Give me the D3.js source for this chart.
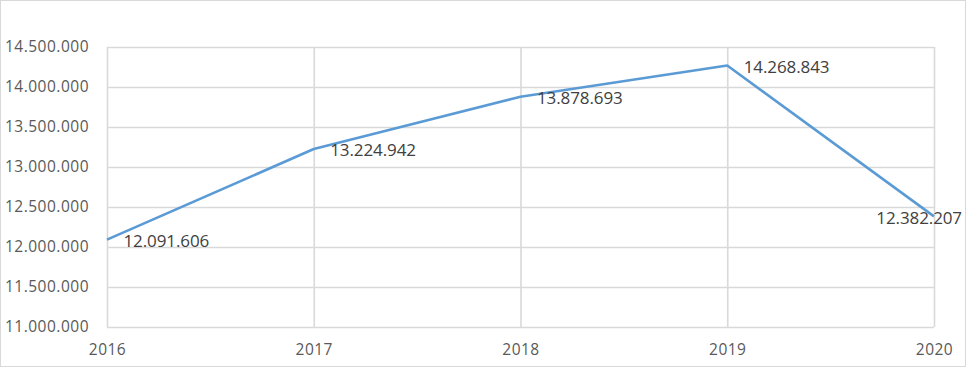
<!DOCTYPE html>
<html><head><meta charset="utf-8">
<script src="https://cdn.jsdelivr.net/npm/d3@7"></script>
<style>body{margin:0;background:#fff;} svg{display:block;}</style>
</head><body>
<script>
const years = ["2016","2017","2018","2019","2020"];
const values = [12091606, 13224942, 13878693, 14268843, 12382207];
const valueLabels = ["12.091.606","13.224.942","13.878.693","14.268.843","12.382.207"];
const yTicks = [11000000,11500000,12000000,12500000,13000000,13500000,14000000,14500000];

const W = 966, H = 367;
const m = {left:107, right:32, top:47, bottom:40};
const svg = d3.select("body").append("svg").attr("width",W).attr("height",H);
svg.append("rect").attr("x",0.5).attr("y",0.5).attr("width",W-1).attr("height",H-1)
  .attr("fill","#fff").attr("stroke","#d9d9d9");

const x = d3.scalePoint().domain(years).range([m.left, W-m.right]);
const y = d3.scaleLinear().domain([11000000,14500000]).range([H-m.bottom, m.top]);
const fmt = d => d3.format(",")(d).replace(/,/g,".");
const font = "'Open Sans', sans-serif";

// horizontal grid + y labels
const ya = svg.append("g").attr("transform",`translate(${m.left},0)`)
  .call(d3.axisLeft(y).tickValues(yTicks).tickFormat(fmt).tickSize(-(W-m.left-m.right)).tickPadding(18));
ya.select(".domain").remove();
ya.selectAll(".tick line").attr("stroke","#d9d9d9").attr("stroke-width",1.6);
ya.selectAll(".tick text").attr("fill","#595959").style("font-family",font).style("font-size","15.5px")
  .style("letter-spacing","0.5px");

// vertical grid + x labels
const xa = svg.append("g").attr("transform",`translate(0,${H-m.bottom})`)
  .call(d3.axisBottom(x).tickSize(-(H-m.top-m.bottom)).tickPadding(17));
xa.select(".domain").remove();
xa.selectAll(".tick line").attr("stroke","#d9d9d9").attr("stroke-width",1.6);
xa.selectAll(".tick text").attr("fill","#595959").style("font-family",font).style("font-size","15.5px")
  .style("letter-spacing","0.5px");

// line
const line = d3.line().x((d,i)=>x(years[i])).y(d=>y(d));
svg.append("path").datum(values).attr("d",line).attr("fill","none")
  .attr("stroke","#5b9bd5").attr("stroke-width",2.6).attr("stroke-linejoin","round");

// data labels
svg.append("g").selectAll("text").data(values).join("text")
  .attr("fill","#404040").style("font-family",font).style("font-size","17px").style("letter-spacing","-0.1px")
  .attr("dy","0.35em")
  .attr("y",d=>y(d)+1.5)
  .text((d,i)=>valueLabels[i])
  .each(function(d,i){
    const w = this.getComputedTextLength();
    const px = x(years[i]) + 16.5;
    d3.select(this).attr("x", Math.min(px, W-4-w));
  });
</script>
</body></html>
